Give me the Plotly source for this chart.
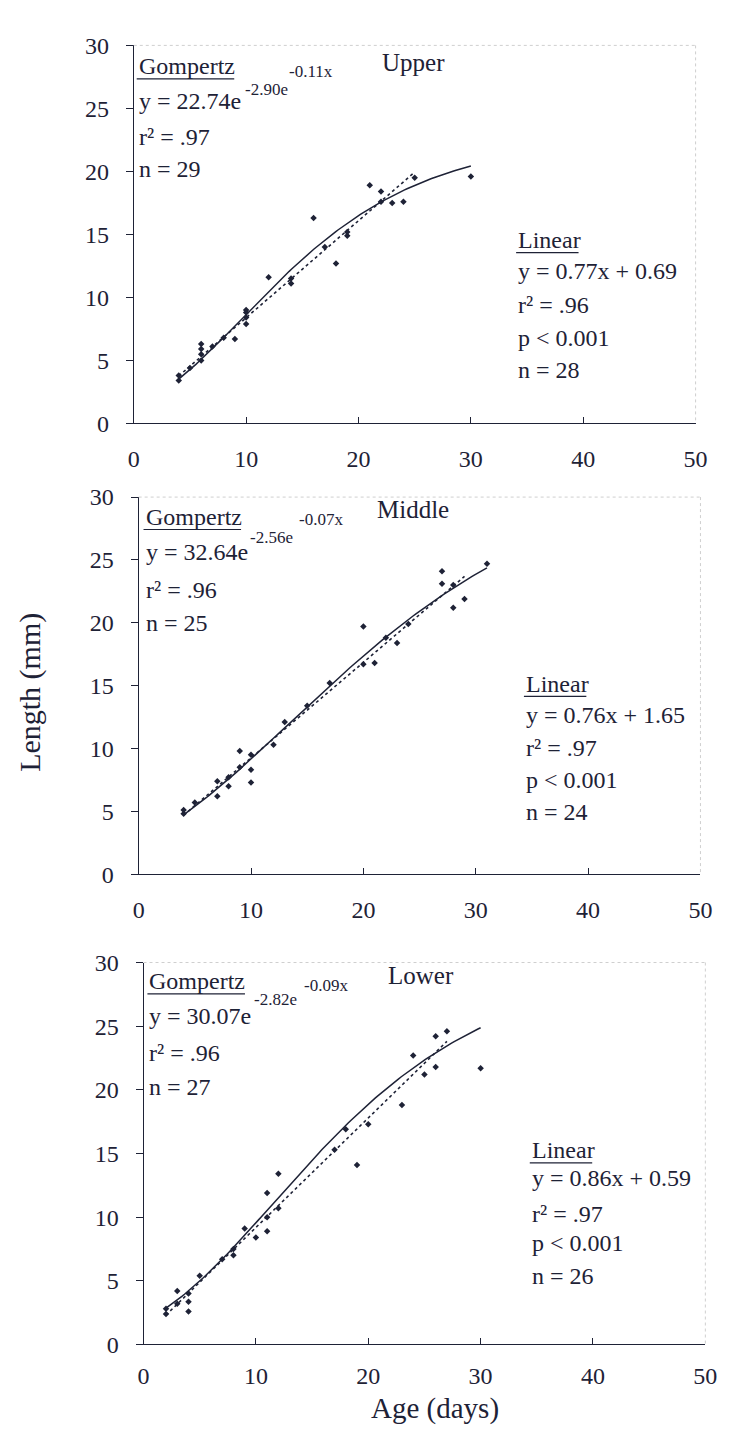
import numpy as np
import plotly.graph_objects as go

W, H = 731, 1438
INK = "#1e2236"
FONT = "Liberation Serif, Times New Roman, serif"

# ---- observed lengths (mm) by age (days) ----
upper_age = [4, 4, 5, 6, 6, 6, 6, 7, 8, 9, 10, 10, 10, 10, 12, 14, 14,
             16, 17, 18, 19, 19, 21, 22, 22, 23, 24, 25, 30]
upper_len = [3.4, 3.8, 4.4, 5.0, 5.5, 5.9, 6.3, 6.1, 6.8, 6.7, 7.9, 8.4, 8.8, 9.0, 11.6, 11.1, 11.5,
             16.3, 14.0, 12.7, 14.9, 15.2, 18.9, 17.6, 18.4, 17.5, 17.6, 19.5, 19.6]

middle_age = [4, 4, 5, 7, 7, 8, 8, 9, 9, 10, 10, 10, 12, 13, 15,
              17, 20, 20, 21, 22, 23, 24, 27, 27, 28, 28, 29, 31]
middle_len = [5.1, 4.8, 5.7, 7.4, 6.2, 7.7, 7.0, 9.8, 8.5, 9.5, 8.3, 7.3, 10.3, 12.1, 13.4,
              15.2, 19.7, 16.7, 16.8, 18.8, 18.4, 19.9, 24.1, 23.1, 21.2, 23.0, 21.9, 24.7]

lower_age = [2, 2, 3, 3, 4, 4, 4, 5, 7, 8, 8, 9, 10, 11, 11, 11, 12, 12,
             17, 18, 19, 20, 23, 24, 25, 26, 26, 27, 30]
lower_len = [2.8, 2.4, 4.2, 3.2, 4.0, 3.35, 2.6, 5.4, 6.7, 7.0, 7.5, 9.1, 8.4, 11.9, 10.0, 8.9, 13.4, 10.7,
             15.3, 16.9, 14.1, 17.3, 18.8, 22.7, 21.2, 24.2, 21.8, 24.6, 21.7]

# ---- fitted models as labelled: Gompertz y = a*exp(-b*exp(-c*x)), linear y = m*x + k ----
gompertz_coef = {"Upper": (22.74, 2.90, 0.11), "Middle": (32.64, 2.56, 0.07), "Lower": (30.07, 2.82, 0.09)}
gompertz_span = {"Upper": (4, 30), "Middle": (4, 31), "Lower": (2, 30)}
linear_coef = {"Upper": (0.77, 0.69), "Middle": (0.76, 1.65), "Lower": (0.86, 0.59)}
linear_span = {"Upper": (4, 25), "Middle": (4, 29), "Lower": (2, 27)}

gompertz_r2 = {"Upper": ".97", "Middle": ".96", "Lower": ".96"}
gompertz_n = {"Upper": "29", "Middle": "25", "Lower": "27"}
linear_r2 = {"Upper": ".96", "Middle": ".97", "Lower": ".97"}
linear_n = {"Upper": "28", "Middle": "24", "Lower": "26"}

panels = ["Upper", "Middle", "Lower"]
obs = {"Upper": (upper_age, upper_len), "Middle": (middle_age, middle_len), "Lower": (lower_age, lower_len)}

x_ticks = [0, 10, 20, 30, 40, 50]
y_ticks = [0, 5, 10, 15, 20, 25, 30]

# plot-area boxes in pixels: left, right, top, bottom
boxes = {"Upper": (131, 707, 33, 418), "Middle": (136, 712, 493, 877), "Lower": (141, 717, 967, 1356)}


def px(x):
    return x / W


def py(y):
    return 1 - y / H


fig = go.Figure()
annotations = []
shapes = []


def label(text, x_left, baseline, size=24, anchor="left"):
    annotations.append(dict(
        text=text, xref="paper", yref="paper", x=px(x_left), y=py(baseline + 0.216 * size + 1),
        xanchor=anchor, yanchor="bottom", showarrow=False,
        font=dict(family=FONT, size=size, color=INK)))


def underline(x0, x1, y):
    shapes.append(dict(type="line", xref="paper", yref="paper", x0=px(x0), x1=px(x1),
                       y0=py(y), y1=py(y), line=dict(color=INK, width=1.2)))


# text positions per panel (pixels)
txt = {
    "Upper": dict(g=(134, 63), sup1=(243, 85), sup2=(288, 67), r=135, n=168, name=(383, 60),
                  lin=(523, 240, 64), lines=(272, 306, 340, 373)),
    "Middle": dict(g=(141, 522), sup1=(248, 541), sup2=(298, 523), r=597, n=630, name=(378, 515),
                   lin=(531, 692, 64), lines=(724, 758, 790, 823)),
    "Lower": dict(g=(145, 995), sup1=(252, 1012), sup2=(303, 997), r=1068, n=1103, name=(390, 990),
                  lin=(537, 1167, 64), lines=(1196, 1232, 1262, 1295)),
}

for i, name in enumerate(panels, start=1):
    xa = "x" if i == 1 else f"x{i}"
    ya = "y" if i == 1 else f"y{i}"
    l, r, t, b = boxes[name]

    a, bb, c = gompertz_coef[name]
    g0, g1 = gompertz_span[name]
    gx = np.linspace(g0, g1, 120)
    gy = a * np.exp(-bb * np.exp(-c * gx))

    m, k = linear_coef[name]
    lx = np.array(linear_span[name], dtype=float)
    ly = m * lx + k

    ax, ay = obs[name]
    fig.add_trace(go.Scatter(x=lx, y=ly, mode="lines", xaxis=xa, yaxis=ya, showlegend=False,
                             line=dict(color=INK, width=1.6, dash="3px,3px")))
    fig.add_trace(go.Scatter(x=gx, y=gy, mode="lines", xaxis=xa, yaxis=ya, showlegend=False,
                             line=dict(color=INK, width=1.5)))
    fig.add_trace(go.Scatter(x=ax, y=ay, mode="markers", xaxis=xa, yaxis=ya, showlegend=False,
                             marker=dict(symbol="diamond", size=5, color=INK)))

    axis_common = dict(showgrid=False, zeroline=False, showline=True, linecolor=INK, linewidth=1,
                       tickcolor=INK, tickfont=dict(family=FONT, size=24, color=INK))
    fig.update_layout(**{
        ("xaxis" if i == 1 else f"xaxis{i}"): dict(
            axis_common, domain=[px(l), px(r)], range=[0, 50], tickvals=x_ticks,
            ticks="inside", ticklen=6, anchor=ya, ticklabelstandoff=14 if i < 3 else 10),
        ("yaxis" if i == 1 else f"yaxis{i}"): dict(
            axis_common, domain=[py(b), py(t)], range=[0, 30], tickvals=y_ticks,
            ticks="outside", ticklen=7, anchor=xa, ticklabelstandoff=12),
    })

    # faint frame on top and right of each plot area
    shapes.append(dict(type="line", xref="paper", yref="paper", x0=px(l), x1=px(r), y0=py(t), y1=py(t),
                       line=dict(color="#cfcfcf", width=1, dash="dot")))
    shapes.append(dict(type="line", xref="paper", yref="paper", x0=px(r), x1=px(r), y0=py(t), y1=py(b),
                       line=dict(color="#cfcfcf", width=1, dash="dot")))

    p = txt[name]
    gx0, gb = p["g"]
    label("Gompertz", gx0, gb)
    underline(gx0, gx0 + 100, gb + 4)
    label(f"y = {a:.2f}e", gx0, gb + 36)
    label(f"-{bb:.2f}e", p["sup1"][0], p["sup1"][1], size=17)
    label(f"-{c:.2f}x", p["sup2"][0], p["sup2"][1], size=17)
    label(f"r\u00b2 = {gompertz_r2[name]}", gx0, p["r"])
    label(f"n = {gompertz_n[name]}", gx0, p["n"])
    label(name, p["name"][0], p["name"][1], size=25)

    lx0, lb, lw = p["lin"]
    label("Linear", lx0, lb)
    underline(lx0, lx0 + lw, lb + 4)
    y1, y2, y3, y4 = p["lines"]
    label(f"y = {m:.2f}x + {k:.2f}", lx0, y1)
    label(f"r\u00b2 = {linear_r2[name]}", lx0, y2)
    label("p < 0.001", lx0, y3)
    label(f"n = {linear_n[name]}", lx0, y4)

# axis titles
annotations.append(dict(text="Length (mm)", xref="paper", yref="paper", x=px(25), y=py(692),
                        xanchor="center", yanchor="middle", textangle=-90, showarrow=False,
                        font=dict(family=FONT, size=30, color=INK)))
annotations.append(dict(text="Age (days)", xref="paper", yref="paper", x=px(440), y=py(1421),
                        xanchor="center", yanchor="middle", showarrow=False,
                        font=dict(family=FONT, size=29, color=INK)))

fig.update_layout(width=W, height=H, margin=dict(l=0, r=0, t=0, b=0),
                  paper_bgcolor="white", plot_bgcolor="white",
                  annotations=annotations, shapes=shapes)

fig.write_html("out.html")
